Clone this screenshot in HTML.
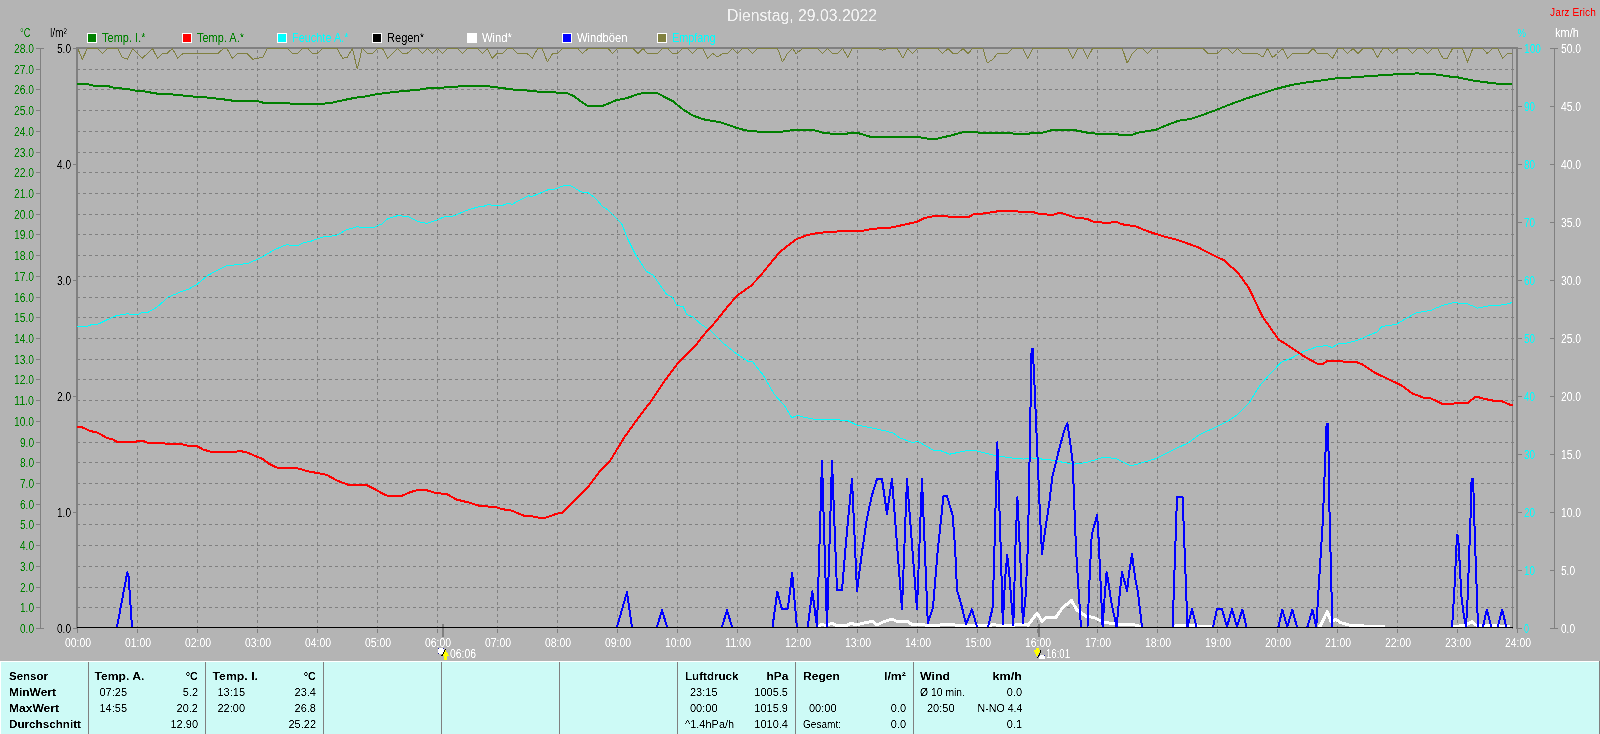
<!DOCTYPE html>
<html><head><meta charset="utf-8"><title>Dienstag, 29.03.2022</title>
<style>
html,body{margin:0;padding:0;width:1600px;height:734px;overflow:hidden;background:#b4b4b4}
svg{display:block}
text{font-family:"Liberation Sans",Arial,sans-serif}
</style></head><body>
<svg width="1600" height="734" viewBox="0 0 1600 734">
<rect x="87" y="33" width="10" height="10" fill="#ffffff"/>
<rect x="88" y="34" width="8" height="8" fill="#008000"/>
<rect x="182" y="33" width="10" height="10" fill="#ffffff"/>
<rect x="183" y="34" width="8" height="8" fill="#ff0000"/>
<rect x="277" y="33" width="10" height="10" fill="#ffffff"/>
<rect x="278" y="34" width="8" height="8" fill="#00ffff"/>
<rect x="372" y="33" width="10" height="10" fill="#ffffff"/>
<rect x="373" y="34" width="8" height="8" fill="#000000"/>
<rect x="467" y="33" width="10" height="10" fill="#ffffff"/>
<rect x="468" y="34" width="8" height="8" fill="#ffffff"/>
<rect x="562" y="33" width="10" height="10" fill="#ffffff"/>
<rect x="563" y="34" width="8" height="8" fill="#0000ff"/>
<rect x="657" y="33" width="10" height="10" fill="#ffffff"/>
<rect x="658" y="34" width="8" height="8" fill="#808040"/>
<path d="M77 607.5H1514 M77 587.5H1514 M77 566.5H1514 M77 545.5H1514 M77 524.5H1514 M77 504.5H1514 M77 483.5H1514 M77 462.5H1514 M77 442.5H1514 M77 421.5H1514 M77 400.5H1514 M77 379.5H1514 M77 359.5H1514 M77 338.5H1514 M77 317.5H1514 M77 297.5H1514 M77 276.5H1514 M77 255.5H1514 M77 234.5H1514 M77 214.5H1514 M77 193.5H1514 M77 172.5H1514 M77 152.5H1514 M77 131.5H1514 M77 110.5H1514 M77 89.5H1514 M77 69.5H1514 M137.5 50V628 M197.5 50V628 M257.5 50V628 M317.5 50V628 M377.5 50V628 M437.5 50V628 M497.5 50V628 M557.5 50V628 M617.5 50V628 M677.5 50V628 M737.5 50V628 M797.5 50V628 M857.5 50V628 M917.5 50V628 M977.5 50V628 M1037.5 50V628 M1097.5 50V628 M1157.5 50V628 M1217.5 50V628 M1277.5 50V628 M1337.5 50V628 M1397.5 50V628 M1457.5 50V628" stroke="#808080" stroke-width="1" stroke-dasharray="3 3" fill="none" shape-rendering="crispEdges"/>
<path d="M77.5 629V633M137.5 629V633M197.5 629V633M257.5 629V633M317.5 629V633M377.5 629V633M437.5 629V633M497.5 629V633M557.5 629V633M617.5 629V633M677.5 629V633M737.5 629V633M797.5 629V633M857.5 629V633M917.5 629V633M977.5 629V633M1037.5 629V633M1097.5 629V633M1157.5 629V633M1217.5 629V633M1277.5 629V633M1337.5 629V633M1397.5 629V633M1457.5 629V633M1517.5 629V633" stroke="#808080" stroke-width="1" shape-rendering="crispEdges"/>
<path d="M76 628V47H1518V628" stroke="none" fill="none"/>
<rect x="76" y="47" width="1442" height="2" fill="#808080"/>
<rect x="76" y="47" width="2" height="582" fill="#808080"/>
<rect x="1516" y="47" width="2" height="582" fill="#808080"/>
<rect x="1512" y="49" width="1" height="580" fill="#808080"/>
<rect x="40" y="48" width="1" height="581" fill="#808080"/>
<rect x="36" y="628" width="8" height="1" fill="#808080"/>
<rect x="36" y="607" width="5" height="1" fill="#808080"/>
<rect x="36" y="587" width="5" height="1" fill="#808080"/>
<rect x="36" y="566" width="5" height="1" fill="#808080"/>
<rect x="36" y="545" width="5" height="1" fill="#808080"/>
<rect x="36" y="524" width="5" height="1" fill="#808080"/>
<rect x="36" y="504" width="5" height="1" fill="#808080"/>
<rect x="36" y="483" width="5" height="1" fill="#808080"/>
<rect x="36" y="462" width="5" height="1" fill="#808080"/>
<rect x="36" y="442" width="5" height="1" fill="#808080"/>
<rect x="36" y="421" width="5" height="1" fill="#808080"/>
<rect x="36" y="400" width="5" height="1" fill="#808080"/>
<rect x="36" y="379" width="5" height="1" fill="#808080"/>
<rect x="36" y="359" width="5" height="1" fill="#808080"/>
<rect x="36" y="338" width="5" height="1" fill="#808080"/>
<rect x="36" y="317" width="5" height="1" fill="#808080"/>
<rect x="36" y="297" width="5" height="1" fill="#808080"/>
<rect x="36" y="276" width="5" height="1" fill="#808080"/>
<rect x="36" y="255" width="5" height="1" fill="#808080"/>
<rect x="36" y="234" width="5" height="1" fill="#808080"/>
<rect x="36" y="214" width="5" height="1" fill="#808080"/>
<rect x="36" y="193" width="5" height="1" fill="#808080"/>
<rect x="36" y="172" width="5" height="1" fill="#808080"/>
<rect x="36" y="152" width="5" height="1" fill="#808080"/>
<rect x="36" y="131" width="5" height="1" fill="#808080"/>
<rect x="36" y="110" width="5" height="1" fill="#808080"/>
<rect x="36" y="89" width="5" height="1" fill="#808080"/>
<rect x="36" y="69" width="5" height="1" fill="#808080"/>
<rect x="36" y="48" width="8" height="1" fill="#808080"/>
<rect x="73" y="628" width="3" height="1" fill="#808080"/>
<rect x="73" y="512" width="3" height="1" fill="#808080"/>
<rect x="73" y="396" width="3" height="1" fill="#808080"/>
<rect x="73" y="280" width="3" height="1" fill="#808080"/>
<rect x="73" y="164" width="3" height="1" fill="#808080"/>
<rect x="73" y="48" width="3" height="1" fill="#808080"/>
<rect x="1518" y="628" width="4" height="1" fill="#808080"/>
<rect x="1518" y="570" width="4" height="1" fill="#808080"/>
<rect x="1518" y="512" width="4" height="1" fill="#808080"/>
<rect x="1518" y="454" width="4" height="1" fill="#808080"/>
<rect x="1518" y="396" width="4" height="1" fill="#808080"/>
<rect x="1518" y="338" width="4" height="1" fill="#808080"/>
<rect x="1518" y="280" width="4" height="1" fill="#808080"/>
<rect x="1518" y="222" width="4" height="1" fill="#808080"/>
<rect x="1518" y="164" width="4" height="1" fill="#808080"/>
<rect x="1518" y="106" width="4" height="1" fill="#808080"/>
<rect x="1518" y="48" width="4" height="1" fill="#808080"/>
<rect x="1554" y="48" width="1" height="581" fill="#808080"/>
<rect x="1550" y="628" width="8" height="1" fill="#808080"/>
<rect x="1550" y="570" width="5" height="1" fill="#808080"/>
<rect x="1550" y="512" width="5" height="1" fill="#808080"/>
<rect x="1550" y="454" width="5" height="1" fill="#808080"/>
<rect x="1550" y="396" width="5" height="1" fill="#808080"/>
<rect x="1550" y="338" width="5" height="1" fill="#808080"/>
<rect x="1550" y="280" width="5" height="1" fill="#808080"/>
<rect x="1550" y="222" width="5" height="1" fill="#808080"/>
<rect x="1550" y="164" width="5" height="1" fill="#808080"/>
<rect x="1550" y="106" width="5" height="1" fill="#808080"/>
<rect x="1550" y="48" width="8" height="1" fill="#808080"/>
<rect x="442" y="624" width="2" height="13" fill="#808080"/>
<rect x="1038" y="624" width="2" height="13" fill="#808080"/>
<polyline points="77.8,48.5 82.3,59.3 87.3,48.5 97.4,48.5 102.6,53.5 107.5,48.5 117.6,48.5 122.1,57 127.3,59.3 132.7,48.5 142.4,58.2 152.5,48.5 157.5,58.2 162.6,53.5 167.1,53.5 172.3,48.5 177.7,58.2 182.9,53.5 217.8,53.5 223.4,48.5 226.8,48.5 232.4,58.2 237.6,53.5 247,53.5 252.6,59.3 257.8,58.2 262.8,57.5 267.3,48.5 287.5,48.5 292.5,53.5 297.6,53.5 302.8,48.5 307.8,48.5 312.7,53.5 317.2,53.5 322.4,48.5 337,48.5 342.6,58.2 347.2,57.5 352.3,48.5 357.3,68.8 362.2,48.5 367.4,53.5 372.6,53.5 377.5,48.5 382.5,48.5 387.6,58.2 397.3,48.5 402.3,53.5 407.2,53.5 412.4,48.5 417.6,48.5 422.5,53.5 427.5,48.5 432.6,53.5 437.5,48.5 442.8,53.5 447.3,48.5 457.4,48.5 462.6,53.5 467.5,48.5 477.6,48.5 482.8,53.5 487.3,48.5 492.3,58.2 497.2,53.5 502.4,53.5 507.6,48.5 512.5,48.5 517.5,53.5 527.1,53.5 532.3,58.2 537.7,48.5 542.2,48.5 547.4,62 552.6,53.5 557.5,53.5 562.5,48.5 577.8,48.5 582.7,53.5 587.9,48.5 608.1,48.5 612.6,53.5 617.8,48.5 632.9,48.5 638.1,53.5 643,48.5 647.5,53.5 657.6,53.5 662.8,48.5 667.8,48.5 672.7,53.5 677.2,53.5 682.4,48.5 687.6,48.5 692.5,53.5 697.5,48.5 702.6,48.5 707.8,58.2 712.8,53.5 717.7,57 722.9,53.5 727.4,53.5 732.6,48.5 737.5,53.5 742.5,48.5 747.7,48.5 752.8,53.5 757.8,48.5 777.6,48.5 782.5,62 787.5,53.5 792.7,48.5 796,53.5 802.8,48.5 817.4,48.5 822.6,53.5 827.5,48.5 832.5,53.5 837.6,53.5 842.8,48.5 847.8,57.5 852.3,48.5 878.1,48.5 882.6,50.3 887.1,48.5 897.3,48.5 902.9,58.2 907.8,48.5 912.6,53.5 917.5,48.5 937.8,48.5 942.7,53.5 947.9,48.5 953,53.5 957.6,53.5 963,48.5 968.1,53.5 972.6,48.5 982.8,48.5 987.3,63 992.9,59.3 997.4,53.5 1007.5,53.5 1012.5,48.5 1022.8,48.5 1027.8,58.2 1032.7,48.5 1067.8,48.5 1072.8,58.2 1077.7,48.5 1082.9,48.5 1087.4,58.2 1092.6,48.5 1122.3,48.5 1127.2,63 1132.4,53.5 1137.6,48.5 1142.5,48.5 1147.5,53.5 1152.7,48.5 1202.8,48.5 1207.8,53.5 1217.2,53.5 1222.4,48.5 1227.6,48.5 1232.5,53.5 1237.5,48.5 1242.6,53.5 1257.3,53.5 1262.9,57 1267.4,48.5 1272.6,57.5 1277.5,53.5 1282.5,48.5 1287.6,58.2 1292.8,53.5 1307.9,53.5 1313.1,48.5 1317.6,53.5 1327.5,53.5 1332.6,58.2 1337.8,48.5 1342.8,48.5 1347.7,53.5 1352.9,48.5 1358.1,53.5 1363,48.5 1372.5,48.5 1377.6,57.5 1382.8,48.5 1387.8,48.5 1392.7,53.5 1397.9,48.5 1407.6,48.5 1412.5,53.5 1417.5,48.5 1422.6,48.5 1427.8,53.5 1432.8,48.5 1437.7,48.5 1442.9,58.2 1447.4,58.2 1452.6,48.5 1462.5,48.5 1467.6,62 1472.8,48.5 1482.3,48.5 1487.2,53.5 1492.4,48.5 1497.6,48.5 1502.5,58.2 1507.5,53.5 1512,53.5" fill="none" stroke="#808040" stroke-width="1" stroke-linejoin="round" stroke-linecap="butt" shape-rendering="crispEdges"/>
<polyline points="77.1,326.3 87.3,326.3 91.8,324.5 97.4,324.5 105.3,320.6 116.5,315.5 127.8,313.7 132.3,314.6 137.9,314.6 141.3,312.8 148,312.3 157,307.1 163.8,301.1 168.3,297 175,294.3 181.8,291.4 188.5,289.1 197.5,284 202,280.1 207.6,275.6 215.5,271.1 226.8,265.5 233.5,265.1 238,264.4 247,263.7 256,259.9 265,255.4 274,249.8 286.4,244.8 292,245.3 298.8,245.3 303.3,243 312.3,240.8 321.3,237.4 325.8,236.3 335.9,235.8 346,230 357.3,226.6 361.8,227.7 373,227.7 382,223.9 387.7,218.7 397.8,215.6 407.9,216.5 418,221.6 427,223.4 436,220.3 445,216.6 452.9,216.2 465.3,211 477.6,207 483.3,206.5 487.8,204.7 494.5,205.4 502.4,205.4 508,203.4 512.5,204.3 518.1,200.9 528.3,195.7 531.6,196.6 540.6,193 548.5,189.6 554.1,189.4 562,186.3 567.6,185.1 571,185.8 581.1,191.9 587.9,192.6 595.8,198.6 602.5,206.5 608.1,209.9 616,217.8 621.6,223.4 627.3,238 636.3,256 646.4,271.3 653.1,275.1 666.6,294.3 672.3,297.2 676.8,305.5 683.1,306.6 686.9,314.5 692.5,316.8 701.5,324.6 709.9,330 722.2,342.3 735.8,353.2 748.1,361.3 752.2,361.3 763.1,375 774,394 784.9,406.3 791.7,417.8 797.7,415.1 803.8,417.3 817.5,419.8 831.3,419.3 847.8,420.6 856,424.8 872.5,428.1 884.9,430.8 893.1,433 900,438 912.4,442.6 917.9,441.3 933,450 941.3,450.9 949.5,454.2 966,450.9 977,450.9 996.3,455.8 1010,457.8 1023.8,459.1 1030.6,457.8 1037.5,458.6 1051.3,460 1065,462.7 1074.7,464.1 1087,462.4 1103.5,457.2 1115.9,458.6 1131,466 1142,462.7 1155.8,458.6 1175,449 1188.8,442.6 1199.8,434.4 1216.3,427 1230,419.8 1237.8,414.4 1248.7,403.5 1259.6,385.8 1270.5,373.5 1281.4,362.1 1292.3,357.7 1303.2,351.7 1318.2,346.3 1327.7,345.7 1331.8,347.6 1338.6,343.6 1346.8,343 1357.7,340.3 1368.6,335.4 1376.8,332.1 1382.2,326.4 1395.8,324.5 1406.7,318.2 1416.3,312.8 1431.3,310.3 1442.2,305.4 1453.1,302.7 1466.7,303.5 1477.6,308.1 1491.2,305.4 1503.5,304.9 1511.7,302.7" fill="none" stroke="#00ffff" stroke-width="1" stroke-linejoin="round" stroke-linecap="butt" shape-rendering="crispEdges"/>
<polyline points="77,84 87.3,84.1 92.9,85.5 107.5,85.9 114.3,87.9 127.8,89 136.8,90.9 143.5,91.3 157,93.6 172.8,94.5 184,95.6 193,96.5 206.5,97.4 222.3,99.2 233.5,100.8 256,100.8 262.8,102.6 287.5,103 292,103.9 321.3,103.9 332.5,102.6 346,99.6 355,97.8 364,96.7 377.5,94 391,92.4 404.5,90.9 418,90 424.8,88.6 436,87.7 451.8,87.3 463,85.9 486.6,86.1 496.8,87.3 512.5,89.5 528.3,90.6 539.5,91.8 553,92.4 566.5,92.9 573.3,95.8 580,100.8 587.9,106 602.5,106 616,100.3 627.3,98 638.5,94 645.3,92.7 656.5,92.7 663.3,96.3 672.3,100.8 683.5,109.8 692.5,115.4 703.8,119.4 719.5,122.1 728.5,125 737.5,128.2 746.5,130.5 757.8,131.6 782.5,131.6 796,129.6 811.8,129.6 823,132.7 833.1,133.8 846.6,133.8 850,132.7 856.8,132.7 872.5,137.4 901.8,137.4 906.3,136.8 916.4,136.8 928.8,138.8 936.6,138.8 951.3,135.4 962.5,132.3 976,131.8 978.3,132.7 1012,132.9 1014.3,134 1027.8,134 1032.3,132.7 1042.4,132.7 1052.5,130 1073.9,130 1088.5,132.9 1097.5,133.8 1116.7,133.8 1120,135 1131.3,135 1138,132.7 1149.3,130.7 1156,129.7 1167.3,125 1178.5,120.7 1190.9,118.9 1201,115.5 1214.5,110.6 1230.3,104.3 1246,98.6 1261.8,93.5 1277.5,88.5 1291,85.1 1304.5,82.7 1320.3,80.6 1336,78.4 1354,77.3 1372,75.9 1385.5,75 1399,74.1 1418.1,73.4 1421.5,73.7 1437.3,74.6 1448.5,76.4 1457.5,77.3 1473.3,80.6 1489,82.7 1498,83.8 1512,83.8" fill="none" stroke="#008000" stroke-width="2" stroke-linejoin="round" stroke-linecap="butt" shape-rendering="crispEdges"/>
<polyline points="77.1,427 81.6,427 89.5,430.8 97.4,432.6 107.5,438.3 112,438.9 117.6,442.3 131.1,442.3 140.1,441 143.5,441.2 148,442.8 163.8,442.8 166,444.1 180.6,443.9 188.5,445.9 197.5,446.4 203.1,449.5 211,451.8 222.3,452.2 231.3,452.2 240.3,451.1 247,452.4 256,456.3 262.8,459 269.5,464.1 276.3,467.5 296.5,468 307.8,471.3 317.9,473.1 326.9,474.9 337,480.6 348.3,484.8 366.3,484.8 373,488.2 384.3,494.5 388.8,496.1 401.2,496.1 411.3,491.8 418,490 425.9,490 436,493 446.9,494.1 456.4,499.5 468.7,502.5 479.6,505.8 496,507.2 501.4,509.1 511,510.4 524.6,515.9 531.4,516.2 539.6,517.8 546.4,517.5 555.9,514 562.7,512.6 572.3,503.1 587.3,488.1 599.5,471.7 610.4,460.3 624.1,437.7 637.7,418.6 651.3,400.9 665,380.4 677.2,364.1 694.9,346.4 703.8,334.8 715,322.4 728.5,305.5 737.5,295.4 751,285.7 760,276.3 769,265 780.3,251.5 796,239.4 807.3,235 818.5,232.8 834.3,231.7 843.3,231 863.5,230.6 872.5,228.8 890.5,227.6 906.3,224.3 917.5,221.6 924.3,218 935.5,215.9 945.6,215.9 949,216.8 969.3,216.8 973.8,214.1 982.8,213.5 991.8,212.3 999.6,211 1016.5,211 1018.8,211.7 1032.3,211.9 1039,213.7 1048,214.6 1053.7,214.6 1059.3,212.6 1063.8,213.7 1077.3,218.2 1086.3,218.6 1093,221.6 1102,222.5 1111,222.5 1115.5,221.6 1122.3,224.3 1135.8,226.5 1147,231 1156,234 1166.9,237.3 1177.8,240 1196.9,246.8 1213.2,255 1224.1,260.4 1237.8,272.7 1248.7,287.7 1262.3,316.3 1278.6,339.5 1292.3,348.2 1303.2,355.8 1316.8,363.5 1323.6,363.5 1327.7,360.7 1341.3,360.7 1344.1,362.1 1356.3,362.1 1363.1,364.8 1374,372.2 1385,377.6 1401.3,385.3 1412.2,393.4 1423.1,397.5 1431.3,398.6 1442.2,403.8 1453.1,403.8 1455.8,402.7 1468.1,402.7 1474.9,397.3 1479,397.3 1483.1,398.6 1494,400.8 1502.1,401.3 1510.3,404.9 1512.5,404.9" fill="none" stroke="#ff0000" stroke-width="2" stroke-linejoin="round" stroke-linecap="butt" shape-rendering="crispEdges"/>
<polyline points="817,627 818.5,626.5 822.2,624.2 826,625.8 832,623.2 836.5,625.8 845.5,625.8 851.5,623.2 856,625 862,623.5 872.5,621.2 877,625 883,622 892,619 898,622 907,621.2 911.5,624.2 925,625 940,625 949,624.2 955,625 970,625.8 985,625.8 994,624.7 1000,625.8 1015,625 1022.5,624.2 1028,625.2 1037,613.2 1042,621.2 1047,617.2 1056,617.2 1063,607.2 1071.5,600.5 1077,610.2 1086,616.2 1092,617.2 1095,618 1103,622 1115,624 1135,625 1142,627" fill="none" stroke="#ffffff" stroke-width="3" stroke-linejoin="round" stroke-linecap="butt" shape-rendering="crispEdges"/>
<polyline points="1172,627 1177,625.5 1190,625.8 1205,626.2 1212,627" fill="none" stroke="#ffffff" stroke-width="3" stroke-linejoin="round" stroke-linecap="butt" shape-rendering="crispEdges"/>
<polyline points="1318,627 1320,626.4 1327.2,611.6 1331.1,622 1336,619.4 1341,622.8 1350,625.3 1364,626 1385,627" fill="none" stroke="#ffffff" stroke-width="3" stroke-linejoin="round" stroke-linecap="butt" shape-rendering="crispEdges"/>
<polyline points="1453,627 1466,625 1472,621.8 1476,625 1500,626 1510,627" fill="none" stroke="#ffffff" stroke-width="3" stroke-linejoin="round" stroke-linecap="butt" shape-rendering="crispEdges"/>
<polyline points="117,627 127.3,572.3 128.6,576 132,627" fill="none" stroke="#0000ff" stroke-width="2" stroke-linejoin="round" stroke-linecap="butt" shape-rendering="crispEdges"/>
<polyline points="617,627 627,592 632,627" fill="none" stroke="#0000ff" stroke-width="2" stroke-linejoin="round" stroke-linecap="butt" shape-rendering="crispEdges"/>
<polyline points="657,627 662,610 667,627" fill="none" stroke="#0000ff" stroke-width="2" stroke-linejoin="round" stroke-linecap="butt" shape-rendering="crispEdges"/>
<polyline points="722,627 727,610 732,627" fill="none" stroke="#0000ff" stroke-width="2" stroke-linejoin="round" stroke-linecap="butt" shape-rendering="crispEdges"/>
<polyline points="772.5,627 777.3,591.7 781.8,608.7 787.8,608.7 792.2,572.9 796.9,627" fill="none" stroke="#0000ff" stroke-width="2" stroke-linejoin="round" stroke-linecap="butt" shape-rendering="crispEdges"/>
<polyline points="807.8,627 812.3,591.2 817,627 822,461 827,627 832,461 837,590 842,590 847,531 852,479 857,591 862,552 867,518 872,495 877,479 882,479 887,514 892,479 902,609 907,479 917,609 922,479 927.8,623 933,607.4 937.8,550 943.5,496 947,496 952.5,515 955,545.6 957,590 961,603.4 966,624 972,609.4 977,627" fill="none" stroke="#0000ff" stroke-width="2" stroke-linejoin="round" stroke-linecap="butt" shape-rendering="crispEdges"/>
<polyline points="988,627 992.7,607.5 994.6,542.8 997.3,442.4 1000.9,553.8 1002.8,624 1005,580 1007.2,555.2 1009.2,573.1 1013.3,625.4 1015.5,545.6 1017.4,497.4 1021,573.1 1022.9,623 1025.7,595.1 1028,543 1029.8,446.3 1031.6,348.6 1032.7,348.6 1033.9,370.7 1037,445 1040,515 1042,554 1045,531 1049,505 1052.3,477 1058.8,450.4 1065,427.9 1067.4,423.4 1070.1,442.2 1072.7,462.6 1076,549 1078,581 1081,627" fill="none" stroke="#0000ff" stroke-width="2" stroke-linejoin="round" stroke-linecap="butt" shape-rendering="crispEdges"/>
<polyline points="1087.5,627 1090,569 1091.7,535 1097.1,515 1098.6,539 1100.6,583 1102.6,627 1104,605 1106.6,572 1108,579 1111,601 1116.6,627 1119,601 1122,572 1127,591 1129.4,571 1132,554 1135,577 1138,593 1142,627" fill="none" stroke="#0000ff" stroke-width="2" stroke-linejoin="round" stroke-linecap="butt" shape-rendering="crispEdges"/>
<polyline points="1172.6,627 1177,497 1182.6,497 1187.5,627 1192,609 1196.6,627" fill="none" stroke="#0000ff" stroke-width="2" stroke-linejoin="round" stroke-linecap="butt" shape-rendering="crispEdges"/>
<polyline points="1213,627 1217,609 1222,609 1227,627 1232,609 1237,627 1242.4,609.6 1246.5,627" fill="none" stroke="#0000ff" stroke-width="2" stroke-linejoin="round" stroke-linecap="butt" shape-rendering="crispEdges"/>
<polyline points="1278.4,627 1282.3,609.6 1287.3,627 1292.3,609.6 1297,627" fill="none" stroke="#0000ff" stroke-width="2" stroke-linejoin="round" stroke-linecap="butt" shape-rendering="crispEdges"/>
<polyline points="1307.4,627 1312.4,609.6 1316.3,627 1318.4,592.4 1322.8,521.4 1326.6,423.9 1328.1,423.9 1329.3,503.7 1331.1,574.7 1332.3,627" fill="none" stroke="#0000ff" stroke-width="2" stroke-linejoin="round" stroke-linecap="butt" shape-rendering="crispEdges"/>
<polyline points="1452.1,627 1454.3,591.4 1457,535.1 1458.1,536.2 1459.9,567.1 1461.4,595.8 1463.2,611.2 1466,627 1467.6,598 1470.9,507.5 1471.6,478.8 1473.1,478.8 1474.9,538.4 1477.1,600.2 1478,627" fill="none" stroke="#0000ff" stroke-width="2" stroke-linejoin="round" stroke-linecap="butt" shape-rendering="crispEdges"/>
<polyline points="1483,627 1486.8,609.5 1491.2,627" fill="none" stroke="#0000ff" stroke-width="2" stroke-linejoin="round" stroke-linecap="butt" shape-rendering="crispEdges"/>
<polyline points="1497.8,627 1502.2,609.5 1506.2,627" fill="none" stroke="#0000ff" stroke-width="2" stroke-linejoin="round" stroke-linecap="butt" shape-rendering="crispEdges"/>
<polyline points="77,627.5 1513,627.5" fill="none" stroke="#000000" stroke-width="1" stroke-linejoin="round" stroke-linecap="butt" shape-rendering="crispEdges"/>
<g shape-rendering="crispEdges">
<rect x="438" y="648" width="6" height="6" fill="#ffffff"/>
<rect x="438" y="648" width="1" height="1" fill="#2020a0"/>
<rect x="443" y="648" width="1" height="1" fill="#2020a0"/>
<rect x="438" y="653" width="1" height="1" fill="#2020a0"/>
<rect x="443" y="653" width="1" height="1" fill="#2020a0"/>
<path d="M445.5 650L449 656H447V660H444V656H442Z" fill="#ffff00"/>
<path d="M445.5 649.5L441.5 656.5" stroke="#000" stroke-width="1" fill="none"/>
<path d="M1035.5 648H1039V650H1040.5L1037 657.5L1033.5 650H1035.5Z" fill="#ffff00"/>
<path d="M1041 650.5L1037.5 658" stroke="#000" stroke-width="1" fill="none"/>
<rect x="1039" y="655" width="6" height="4" fill="#ffffff"/>
<rect x="1039" y="655" width="1" height="1" fill="#2020a0"/>
<rect x="1044" y="655" width="1" height="1" fill="#2020a0"/>
</g>
<rect x="0" y="661" width="1599" height="1" fill="#ffffff"/>
<rect x="0" y="662" width="1" height="72" fill="#ffffff"/>
<rect x="1" y="662" width="1598" height="72" fill="#cdfaf6"/>
<rect x="1599" y="661" width="1" height="73" fill="#808080"/>
<rect x="88" y="662" width="1" height="72" fill="#808080"/>
<rect x="205" y="662" width="1" height="72" fill="#808080"/>
<rect x="323" y="662" width="1" height="72" fill="#808080"/>
<rect x="441" y="662" width="1" height="72" fill="#808080"/>
<rect x="559" y="662" width="1" height="72" fill="#808080"/>
<rect x="677" y="662" width="1" height="72" fill="#808080"/>
<rect x="795" y="662" width="1" height="72" fill="#808080"/>
<rect x="913" y="662" width="1" height="72" fill="#808080"/>
<defs><filter id="crisp" color-interpolation-filters="sRGB"><feComponentTransfer><feFuncA type="linear" slope="2" intercept="-0.5"/></feComponentTransfer></filter></defs>
<g filter="url(#crisp)">
<text x="802" y="20.5" fill="#f2f2f2" font-size="16" text-anchor="middle" textLength="150" lengthAdjust="spacingAndGlyphs">Dienstag, 29.03.2022</text>
<text x="1550" y="16" fill="#ff0000" font-size="11" text-anchor="start" textLength="46" lengthAdjust="spacingAndGlyphs">Jarz Erich</text>
<text x="20" y="37" fill="#008000" font-size="12" text-anchor="start" textLength="10.5" lengthAdjust="spacingAndGlyphs">°C</text>
<text x="50" y="37" fill="#000" font-size="12" text-anchor="start" textLength="17" lengthAdjust="spacingAndGlyphs">l/m²</text>
<text x="1517.5" y="37" fill="#00ffff" font-size="11" text-anchor="start" textLength="8.5" lengthAdjust="spacingAndGlyphs">%</text>
<text x="1555" y="37" fill="#ffffff" font-size="12" text-anchor="start" textLength="24" lengthAdjust="spacingAndGlyphs">km/h</text>
<text x="102" y="41.5" fill="#008000" font-size="12" text-anchor="start" textLength="43.5" lengthAdjust="spacingAndGlyphs">Temp. I.*</text>
<text x="197" y="41.5" fill="#008000" font-size="12" text-anchor="start" textLength="47" lengthAdjust="spacingAndGlyphs">Temp. A.*</text>
<text x="292" y="41.5" fill="#00ffff" font-size="12" text-anchor="start" textLength="56.5" lengthAdjust="spacingAndGlyphs">Feuchte A.*</text>
<text x="387" y="41.5" fill="#000000" font-size="12" text-anchor="start" textLength="37" lengthAdjust="spacingAndGlyphs">Regen*</text>
<text x="482" y="41.5" fill="#ffffff" font-size="12" text-anchor="start" textLength="30" lengthAdjust="spacingAndGlyphs">Wind*</text>
<text x="577" y="41.5" fill="#ffffff" font-size="12" text-anchor="start" textLength="50.5" lengthAdjust="spacingAndGlyphs">Windböen</text>
<text x="672" y="41.5" fill="#00ffff" font-size="12" text-anchor="start" textLength="43.5" lengthAdjust="spacingAndGlyphs">Empfang</text>
<text x="34" y="632.5" fill="#008000" font-size="12" text-anchor="end" textLength="14" lengthAdjust="spacingAndGlyphs">0.0</text>
<text x="34" y="611.5" fill="#008000" font-size="12" text-anchor="end" textLength="14" lengthAdjust="spacingAndGlyphs">1.0</text>
<text x="34" y="591.5" fill="#008000" font-size="12" text-anchor="end" textLength="14" lengthAdjust="spacingAndGlyphs">2.0</text>
<text x="34" y="570.5" fill="#008000" font-size="12" text-anchor="end" textLength="14" lengthAdjust="spacingAndGlyphs">3.0</text>
<text x="34" y="549.5" fill="#008000" font-size="12" text-anchor="end" textLength="14" lengthAdjust="spacingAndGlyphs">4.0</text>
<text x="34" y="528.5" fill="#008000" font-size="12" text-anchor="end" textLength="14" lengthAdjust="spacingAndGlyphs">5.0</text>
<text x="34" y="508.5" fill="#008000" font-size="12" text-anchor="end" textLength="14" lengthAdjust="spacingAndGlyphs">6.0</text>
<text x="34" y="487.5" fill="#008000" font-size="12" text-anchor="end" textLength="14" lengthAdjust="spacingAndGlyphs">7.0</text>
<text x="34" y="466.5" fill="#008000" font-size="12" text-anchor="end" textLength="14" lengthAdjust="spacingAndGlyphs">8.0</text>
<text x="34" y="446.5" fill="#008000" font-size="12" text-anchor="end" textLength="14" lengthAdjust="spacingAndGlyphs">9.0</text>
<text x="34" y="425.5" fill="#008000" font-size="12" text-anchor="end" textLength="20" lengthAdjust="spacingAndGlyphs">10.0</text>
<text x="34" y="404.5" fill="#008000" font-size="12" text-anchor="end" textLength="20" lengthAdjust="spacingAndGlyphs">11.0</text>
<text x="34" y="383.5" fill="#008000" font-size="12" text-anchor="end" textLength="20" lengthAdjust="spacingAndGlyphs">12.0</text>
<text x="34" y="363.5" fill="#008000" font-size="12" text-anchor="end" textLength="20" lengthAdjust="spacingAndGlyphs">13.0</text>
<text x="34" y="342.5" fill="#008000" font-size="12" text-anchor="end" textLength="20" lengthAdjust="spacingAndGlyphs">14.0</text>
<text x="34" y="321.5" fill="#008000" font-size="12" text-anchor="end" textLength="20" lengthAdjust="spacingAndGlyphs">15.0</text>
<text x="34" y="301.5" fill="#008000" font-size="12" text-anchor="end" textLength="20" lengthAdjust="spacingAndGlyphs">16.0</text>
<text x="34" y="280.5" fill="#008000" font-size="12" text-anchor="end" textLength="20" lengthAdjust="spacingAndGlyphs">17.0</text>
<text x="34" y="259.5" fill="#008000" font-size="12" text-anchor="end" textLength="20" lengthAdjust="spacingAndGlyphs">18.0</text>
<text x="34" y="238.5" fill="#008000" font-size="12" text-anchor="end" textLength="20" lengthAdjust="spacingAndGlyphs">19.0</text>
<text x="34" y="218.5" fill="#008000" font-size="12" text-anchor="end" textLength="20" lengthAdjust="spacingAndGlyphs">20.0</text>
<text x="34" y="197.5" fill="#008000" font-size="12" text-anchor="end" textLength="20" lengthAdjust="spacingAndGlyphs">21.0</text>
<text x="34" y="176.5" fill="#008000" font-size="12" text-anchor="end" textLength="20" lengthAdjust="spacingAndGlyphs">22.0</text>
<text x="34" y="156.5" fill="#008000" font-size="12" text-anchor="end" textLength="20" lengthAdjust="spacingAndGlyphs">23.0</text>
<text x="34" y="135.5" fill="#008000" font-size="12" text-anchor="end" textLength="20" lengthAdjust="spacingAndGlyphs">24.0</text>
<text x="34" y="114.5" fill="#008000" font-size="12" text-anchor="end" textLength="20" lengthAdjust="spacingAndGlyphs">25.0</text>
<text x="34" y="93.5" fill="#008000" font-size="12" text-anchor="end" textLength="20" lengthAdjust="spacingAndGlyphs">26.0</text>
<text x="34" y="73.5" fill="#008000" font-size="12" text-anchor="end" textLength="20" lengthAdjust="spacingAndGlyphs">27.0</text>
<text x="34" y="52.5" fill="#008000" font-size="12" text-anchor="end" textLength="20" lengthAdjust="spacingAndGlyphs">28.0</text>
<text x="71" y="632.5" fill="#000" font-size="12" text-anchor="end" textLength="14" lengthAdjust="spacingAndGlyphs">0.0</text>
<text x="71" y="516.5" fill="#000" font-size="12" text-anchor="end" textLength="14" lengthAdjust="spacingAndGlyphs">1.0</text>
<text x="71" y="400.5" fill="#000" font-size="12" text-anchor="end" textLength="14" lengthAdjust="spacingAndGlyphs">2.0</text>
<text x="71" y="284.5" fill="#000" font-size="12" text-anchor="end" textLength="14" lengthAdjust="spacingAndGlyphs">3.0</text>
<text x="71" y="168.5" fill="#000" font-size="12" text-anchor="end" textLength="14" lengthAdjust="spacingAndGlyphs">4.0</text>
<text x="71" y="52.5" fill="#000" font-size="12" text-anchor="end" textLength="14" lengthAdjust="spacingAndGlyphs">5.0</text>
<text x="1524" y="632.5" fill="#00ffff" font-size="12" text-anchor="start" textLength="5" lengthAdjust="spacingAndGlyphs">0</text>
<text x="1524" y="574.5" fill="#00ffff" font-size="12" text-anchor="start" textLength="11" lengthAdjust="spacingAndGlyphs">10</text>
<text x="1524" y="516.5" fill="#00ffff" font-size="12" text-anchor="start" textLength="11" lengthAdjust="spacingAndGlyphs">20</text>
<text x="1524" y="458.5" fill="#00ffff" font-size="12" text-anchor="start" textLength="11" lengthAdjust="spacingAndGlyphs">30</text>
<text x="1524" y="400.5" fill="#00ffff" font-size="12" text-anchor="start" textLength="11" lengthAdjust="spacingAndGlyphs">40</text>
<text x="1524" y="342.5" fill="#00ffff" font-size="12" text-anchor="start" textLength="11" lengthAdjust="spacingAndGlyphs">50</text>
<text x="1524" y="284.5" fill="#00ffff" font-size="12" text-anchor="start" textLength="11" lengthAdjust="spacingAndGlyphs">60</text>
<text x="1524" y="226.5" fill="#00ffff" font-size="12" text-anchor="start" textLength="11" lengthAdjust="spacingAndGlyphs">70</text>
<text x="1524" y="168.5" fill="#00ffff" font-size="12" text-anchor="start" textLength="11" lengthAdjust="spacingAndGlyphs">80</text>
<text x="1524" y="110.5" fill="#00ffff" font-size="12" text-anchor="start" textLength="11" lengthAdjust="spacingAndGlyphs">90</text>
<text x="1524" y="52.5" fill="#00ffff" font-size="12" text-anchor="start" textLength="17" lengthAdjust="spacingAndGlyphs">100</text>
<text x="1561" y="632.5" fill="#ffffff" font-size="12" text-anchor="start" textLength="14" lengthAdjust="spacingAndGlyphs">0.0</text>
<text x="1561" y="574.5" fill="#ffffff" font-size="12" text-anchor="start" textLength="14" lengthAdjust="spacingAndGlyphs">5.0</text>
<text x="1561" y="516.5" fill="#ffffff" font-size="12" text-anchor="start" textLength="20" lengthAdjust="spacingAndGlyphs">10.0</text>
<text x="1561" y="458.5" fill="#ffffff" font-size="12" text-anchor="start" textLength="20" lengthAdjust="spacingAndGlyphs">15.0</text>
<text x="1561" y="400.5" fill="#ffffff" font-size="12" text-anchor="start" textLength="20" lengthAdjust="spacingAndGlyphs">20.0</text>
<text x="1561" y="342.5" fill="#ffffff" font-size="12" text-anchor="start" textLength="20" lengthAdjust="spacingAndGlyphs">25.0</text>
<text x="1561" y="284.5" fill="#ffffff" font-size="12" text-anchor="start" textLength="20" lengthAdjust="spacingAndGlyphs">30.0</text>
<text x="1561" y="226.5" fill="#ffffff" font-size="12" text-anchor="start" textLength="20" lengthAdjust="spacingAndGlyphs">35.0</text>
<text x="1561" y="168.5" fill="#ffffff" font-size="12" text-anchor="start" textLength="20" lengthAdjust="spacingAndGlyphs">40.0</text>
<text x="1561" y="110.5" fill="#ffffff" font-size="12" text-anchor="start" textLength="20" lengthAdjust="spacingAndGlyphs">45.0</text>
<text x="1561" y="52.5" fill="#ffffff" font-size="12" text-anchor="start" textLength="20" lengthAdjust="spacingAndGlyphs">50.0</text>
<text x="78" y="647" fill="#ffffff" font-size="12" text-anchor="middle" textLength="26" lengthAdjust="spacingAndGlyphs">00:00</text>
<text x="138" y="647" fill="#ffffff" font-size="12" text-anchor="middle" textLength="26" lengthAdjust="spacingAndGlyphs">01:00</text>
<text x="198" y="647" fill="#ffffff" font-size="12" text-anchor="middle" textLength="26" lengthAdjust="spacingAndGlyphs">02:00</text>
<text x="258" y="647" fill="#ffffff" font-size="12" text-anchor="middle" textLength="26" lengthAdjust="spacingAndGlyphs">03:00</text>
<text x="318" y="647" fill="#ffffff" font-size="12" text-anchor="middle" textLength="26" lengthAdjust="spacingAndGlyphs">04:00</text>
<text x="378" y="647" fill="#ffffff" font-size="12" text-anchor="middle" textLength="26" lengthAdjust="spacingAndGlyphs">05:00</text>
<text x="438" y="647" fill="#ffffff" font-size="12" text-anchor="middle" textLength="26" lengthAdjust="spacingAndGlyphs">06:00</text>
<text x="498" y="647" fill="#ffffff" font-size="12" text-anchor="middle" textLength="26" lengthAdjust="spacingAndGlyphs">07:00</text>
<text x="558" y="647" fill="#ffffff" font-size="12" text-anchor="middle" textLength="26" lengthAdjust="spacingAndGlyphs">08:00</text>
<text x="618" y="647" fill="#ffffff" font-size="12" text-anchor="middle" textLength="26" lengthAdjust="spacingAndGlyphs">09:00</text>
<text x="678" y="647" fill="#ffffff" font-size="12" text-anchor="middle" textLength="26" lengthAdjust="spacingAndGlyphs">10:00</text>
<text x="738" y="647" fill="#ffffff" font-size="12" text-anchor="middle" textLength="26" lengthAdjust="spacingAndGlyphs">11:00</text>
<text x="798" y="647" fill="#ffffff" font-size="12" text-anchor="middle" textLength="26" lengthAdjust="spacingAndGlyphs">12:00</text>
<text x="858" y="647" fill="#ffffff" font-size="12" text-anchor="middle" textLength="26" lengthAdjust="spacingAndGlyphs">13:00</text>
<text x="918" y="647" fill="#ffffff" font-size="12" text-anchor="middle" textLength="26" lengthAdjust="spacingAndGlyphs">14:00</text>
<text x="978" y="647" fill="#ffffff" font-size="12" text-anchor="middle" textLength="26" lengthAdjust="spacingAndGlyphs">15:00</text>
<text x="1038" y="647" fill="#ffffff" font-size="12" text-anchor="middle" textLength="26" lengthAdjust="spacingAndGlyphs">16:00</text>
<text x="1098" y="647" fill="#ffffff" font-size="12" text-anchor="middle" textLength="26" lengthAdjust="spacingAndGlyphs">17:00</text>
<text x="1158" y="647" fill="#ffffff" font-size="12" text-anchor="middle" textLength="26" lengthAdjust="spacingAndGlyphs">18:00</text>
<text x="1218" y="647" fill="#ffffff" font-size="12" text-anchor="middle" textLength="26" lengthAdjust="spacingAndGlyphs">19:00</text>
<text x="1278" y="647" fill="#ffffff" font-size="12" text-anchor="middle" textLength="26" lengthAdjust="spacingAndGlyphs">20:00</text>
<text x="1338" y="647" fill="#ffffff" font-size="12" text-anchor="middle" textLength="26" lengthAdjust="spacingAndGlyphs">21:00</text>
<text x="1398" y="647" fill="#ffffff" font-size="12" text-anchor="middle" textLength="26" lengthAdjust="spacingAndGlyphs">22:00</text>
<text x="1458" y="647" fill="#ffffff" font-size="12" text-anchor="middle" textLength="26" lengthAdjust="spacingAndGlyphs">23:00</text>
<text x="1518" y="647" fill="#ffffff" font-size="12" text-anchor="middle" textLength="26" lengthAdjust="spacingAndGlyphs">24:00</text>
<text x="450" y="658" fill="#ffffff" font-size="12" text-anchor="start" textLength="26" lengthAdjust="spacingAndGlyphs">06:06</text>
<text x="1046" y="658" fill="#ffffff" font-size="12" text-anchor="start" textLength="24" lengthAdjust="spacingAndGlyphs">16:01</text>
<text x="9" y="680" fill="#000" font-size="11" text-anchor="start" font-weight="bold" textLength="39" lengthAdjust="spacingAndGlyphs">Sensor</text>
<text x="9" y="696" fill="#000" font-size="11" text-anchor="start" font-weight="bold" textLength="47" lengthAdjust="spacingAndGlyphs">MinWert</text>
<text x="9" y="712" fill="#000" font-size="11" text-anchor="start" font-weight="bold" textLength="50" lengthAdjust="spacingAndGlyphs">MaxWert</text>
<text x="9" y="728" fill="#000" font-size="11" text-anchor="start" font-weight="bold" textLength="72" lengthAdjust="spacingAndGlyphs">Durchschnitt</text>
<text x="94.5" y="680" fill="#000" font-size="11" text-anchor="start" font-weight="bold" textLength="50" lengthAdjust="spacingAndGlyphs">Temp. A.</text>
<text x="198" y="680" fill="#000" font-size="11" text-anchor="end" font-weight="bold">°C</text>
<text x="99.5" y="696" fill="#000" font-size="11" text-anchor="start">07:25</text>
<text x="198" y="696" fill="#000" font-size="11" text-anchor="end">5.2</text>
<text x="99.5" y="712" fill="#000" font-size="11" text-anchor="start">14:55</text>
<text x="198" y="712" fill="#000" font-size="11" text-anchor="end">20.2</text>
<text x="198" y="728" fill="#000" font-size="11" text-anchor="end">12.90</text>
<text x="212.5" y="680" fill="#000" font-size="11" text-anchor="start" font-weight="bold" textLength="45.5" lengthAdjust="spacingAndGlyphs">Temp. I.</text>
<text x="316" y="680" fill="#000" font-size="11" text-anchor="end" font-weight="bold">°C</text>
<text x="217.5" y="696" fill="#000" font-size="11" text-anchor="start">13:15</text>
<text x="316" y="696" fill="#000" font-size="11" text-anchor="end">23.4</text>
<text x="217.5" y="712" fill="#000" font-size="11" text-anchor="start">22:00</text>
<text x="316" y="712" fill="#000" font-size="11" text-anchor="end">26.8</text>
<text x="316" y="728" fill="#000" font-size="11" text-anchor="end">25.22</text>
<text x="685" y="680" fill="#000" font-size="11" text-anchor="start" font-weight="bold" textLength="53.5" lengthAdjust="spacingAndGlyphs">Luftdruck</text>
<text x="788.5" y="680" fill="#000" font-size="11" text-anchor="end" font-weight="bold" textLength="22" lengthAdjust="spacingAndGlyphs">hPa</text>
<text x="690" y="696" fill="#000" font-size="11" text-anchor="start">23:15</text>
<text x="788" y="696" fill="#000" font-size="11" text-anchor="end">1005.5</text>
<text x="690" y="712" fill="#000" font-size="11" text-anchor="start">00:00</text>
<text x="788" y="712" fill="#000" font-size="11" text-anchor="end">1015.9</text>
<text x="685" y="728" fill="#000" font-size="11" text-anchor="start">^1.4hPa/h</text>
<text x="788" y="728" fill="#000" font-size="11" text-anchor="end">1010.4</text>
<text x="803" y="680" fill="#000" font-size="11" text-anchor="start" font-weight="bold" textLength="37" lengthAdjust="spacingAndGlyphs">Regen</text>
<text x="906" y="680" fill="#000" font-size="11" text-anchor="end" font-weight="bold" textLength="22" lengthAdjust="spacingAndGlyphs">l/m²</text>
<text x="809" y="712" fill="#000" font-size="11" text-anchor="start">00:00</text>
<text x="906" y="712" fill="#000" font-size="11" text-anchor="end">0.0</text>
<text x="803" y="728" fill="#000" font-size="11" text-anchor="start" textLength="38" lengthAdjust="spacingAndGlyphs">Gesamt:</text>
<text x="906" y="728" fill="#000" font-size="11" text-anchor="end">0.0</text>
<text x="920" y="680" fill="#000" font-size="11" text-anchor="start" font-weight="bold" textLength="30" lengthAdjust="spacingAndGlyphs">Wind</text>
<text x="1022" y="680" fill="#000" font-size="11" text-anchor="end" font-weight="bold" textLength="29.5" lengthAdjust="spacingAndGlyphs">km/h</text>
<text x="920" y="696" fill="#000" font-size="11" text-anchor="start" textLength="45" lengthAdjust="spacingAndGlyphs">Ø 10 min.</text>
<text x="1022" y="696" fill="#000" font-size="11" text-anchor="end">0.0</text>
<text x="927" y="712" fill="#000" font-size="11" text-anchor="start">20:50</text>
<text x="1022.5" y="712" fill="#000" font-size="11" text-anchor="end" textLength="45" lengthAdjust="spacingAndGlyphs">N-NO 4.4</text>
<text x="1022" y="728" fill="#000" font-size="11" text-anchor="end">0.1</text>
</g>
</svg>
</body></html>
